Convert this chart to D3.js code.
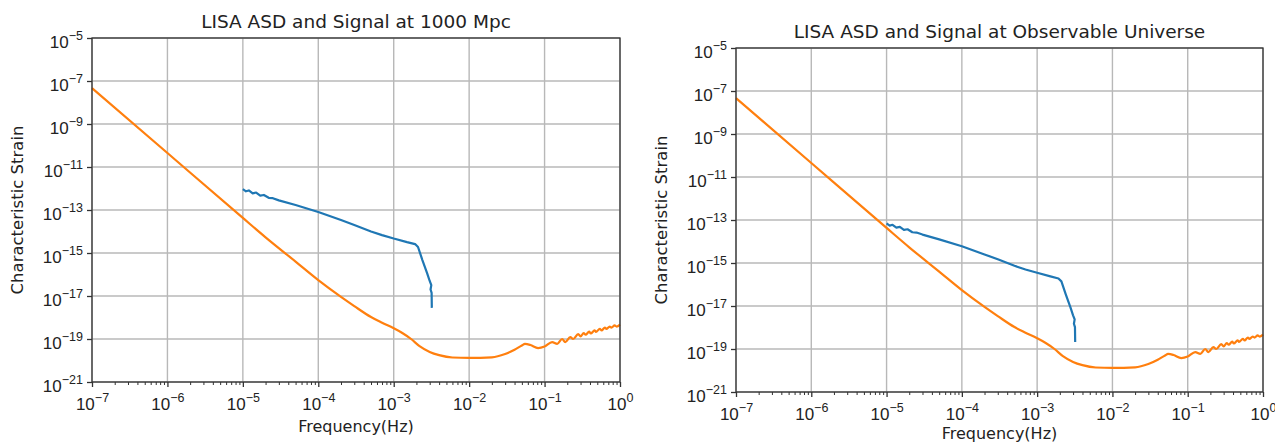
<!DOCTYPE html>
<html>
<head>
<meta charset="utf-8">
<script src="https://cdn.jsdelivr.net/npm/d3@7"></script>
<style>
  body { margin: 0; background: #fff; }
  svg { display: block; font-family: "DejaVu Sans", sans-serif; }
</style>
</head>
<body>
<svg width="1275" height="443"></svg>
<script>
// LISA sensitivity curve (characteristic strain), same in both panels
const lisaFreq = [1e-7, 1e-6, 1e-5, 2e-5, 5e-5, 1e-4, 2e-4, 3e-4, 5e-4, 7e-4, 1e-3, 1.3e-3, 1.7e-3, 2.2e-3, 3e-3, 4e-3, 6e-3, 1e-2, 2e-2, 3e-2, 4e-2, 5e-2, 5.5e-2, 6.5e-2, 8.2e-2, 0.1, 0.126, 0.147, 0.171, 0.188, 0.219, 0.239, 0.279, 0.3, 0.33, 0.35, 0.39, 0.41, 0.46, 0.48, 0.54, 0.57, 0.63, 0.66, 0.73, 0.77, 0.85, 0.9, 1]
const lisaStrain = [4.68e-8, 4.47e-11, 4.27e-14, 5.37e-15, 3.98e-16, 5.5e-17, 9.1e-18, 3.4e-18, 1.05e-18, 5.75e-19, 3.16e-19, 1.9e-19, 1.0e-19, 4.68e-20, 2.51e-20, 1.78e-20, 1.38e-20, 1.32e-20, 1.41e-20, 2.0e-20, 3.16e-20, 5.0e-20, 5.9e-20, 5.25e-20, 3.8e-20, 4.47e-20, 7.2e-20, 5.9e-20, 1.0e-19, 7.2e-20, 1.23e-19, 1.0e-19, 1.7e-19, 1.32e-19, 1.9e-19, 1.58e-19, 2.19e-19, 1.82e-19, 2.5e-19, 2.14e-19, 2.95e-19, 2.5e-19, 3.4e-19, 2.95e-19, 3.8e-19, 3.4e-19, 4.27e-19, 3.8e-19, 4.68e-19]

// signal strain, left at 1000 Mpc, right at observable universe
const signalFreq = [1.0e-5, 1.1e-5, 1.2e-5, 1.35e-5, 1.5e-5, 1.7e-5, 1.9e-5, 2.2e-5, 2.5e-5, 3e-5, 5e-5, 1e-4, 2e-4, 3e-4, 5e-4, 7e-4, 1e-3, 1.5e-3, 1.92e-3, 2.1e-3, 2.4e-3, 2.77e-3, 3.0e-3, 3.15e-3, 3.08e-3, 3.18e-3, 3.2e-3]
const signal1000Mpc = [9.3e-13, 7.4e-13, 8.1e-13, 5.9e-13, 6.5e-13, 4.7e-13, 5.0e-13, 3.7e-13, 3.55e-13, 2.8e-13, 1.7e-13, 8.1e-14, 3.4e-14, 2.0e-14, 1.0e-14, 6.8e-15, 4.7e-15, 3.2e-15, 2.6e-15, 1.9e-15, 4.7e-16, 1.17e-16, 5.0e-17, 3.2e-17, 2.0e-17, 1.4e-17, 2.8e-18]
const signalUniverse = [6.9e-14, 5.5e-14, 6.0e-14, 4.4e-14, 4.8e-14, 3.5e-14, 3.7e-14, 2.7e-14, 2.6e-14, 2.1e-14, 1.26e-14, 6.0e-15, 2.5e-15, 1.5e-15, 7.4e-16, 5.0e-16, 3.5e-16, 2.4e-16, 1.9e-16, 1.4e-16, 3.5e-17, 8.7e-18, 3.7e-18, 2.4e-18, 1.5e-18, 1.04e-18, 2.1e-19]

const xTickExp = [-7, -6, -5, -4, -3, -2, -1, 0]
const yTickExp = [-5, -7, -9, -11, -13, -15, -17, -19, -21]
const titles = ['LISA ASD and Signal at 1000 Mpc', 'LISA ASD and Signal at Observable Universe']

const svg = d3.select('svg')

// where each panel sits
const panels = [
	{ title: titles[0], signal: signal1000Mpc, x0: 92, x1: 620, y0: 38, y1: 382, xlab: 50 },
	{ title: titles[1], signal: signalUniverse, x0: 736, x1: 1263, y0: 48, y1: 392, xlab: 47 }
]

function expLabel(sel, exp) { // 10 met superscript exponent
	sel.append('tspan').text('10')
	sel.append('tspan')
		.attr('dy', -8)
		.attr('font-size', 12.5)
		.text(exp === 0 ? '0' : '\u2212' + Math.abs(exp))
}

panels.forEach(p => {
	const x = d3.scaleLog().domain([1e-7, 1]).range([p.x0, p.x1])
	const y = d3.scaleLog().domain([1e-21, 1e-5]).range([p.y1, p.y0])
	const g = svg.append('g')

	// grid
	g.selectAll('.gx').data(xTickExp).join('line')
		.attr('x1', d => x(10 ** d)).attr('x2', d => x(10 ** d))
		.attr('y1', p.y0).attr('y2', p.y1)
		.attr('stroke', '#b8b8b8').attr('stroke-width', 1.4)
	g.selectAll('.gy').data(yTickExp).join('line')
		.attr('y1', d => y(10 ** d)).attr('y2', d => y(10 ** d))
		.attr('x1', p.x0).attr('x2', p.x1)
		.attr('stroke', '#b8b8b8').attr('stroke-width', 1.4)

	// minor ticks on x
	const minor = []
	xTickExp.slice(0, -1).forEach(e => { for (let k = 2; k < 10; k++) minor.push(k * 10 ** e) })
	g.append('g')
		.attr('transform', `translate(0, ${p.y1})`)
		.call(d3.axisBottom(x).tickValues(minor).tickSize(3).tickFormat(''))
		.call(a => a.select('.domain').remove())
		.selectAll('line').attr('stroke', '#333').attr('stroke-width', 1)

	// major x ticks + labels
	const ax = g.append('g')
		.attr('transform', `translate(0, ${p.y1})`)
		.call(d3.axisBottom(x).tickValues(xTickExp.map(e => 10 ** e)).tickSize(5).tickFormat(''))
	ax.select('.domain').remove()
	ax.selectAll('line').attr('stroke', '#333').attr('stroke-width', 1.3)
	ax.selectAll('.tick').append('text')
		.attr('fill', '#222').attr('font-size', 17)
		.attr('text-anchor', 'middle').attr('y', 28)
		.each(function (d) { expLabel(d3.select(this), Math.round(Math.log10(d))) })

	// y ticks + labels
	const ay = g.append('g')
		.attr('transform', `translate(${p.x0}, 0)`)
		.call(d3.axisLeft(y).tickValues(yTickExp.map(e => 10 ** e)).tickSize(5).tickFormat(''))
	ay.select('.domain').remove()
	ay.selectAll('line').attr('stroke', '#333').attr('stroke-width', 1.3)
	ay.selectAll('.tick').append('text')
		.attr('fill', '#222').attr('font-size', 17)
		.attr('text-anchor', 'end').attr('x', -9).attr('y', 9)
		.each(function (d) { expLabel(d3.select(this), Math.round(Math.log10(d))) })

	// lines
	const smooth = d3.line().curve(d3.curveMonotoneX).x(d => x(d[0])).y(d => y(d[1]))
	const line = d3.line().x(d => x(d[0])).y(d => y(d[1]))
	g.append('path')
		.datum(lisaFreq.map((f, i) => [f, lisaStrain[i]]))
		.attr('fill', 'none').attr('stroke', '#ff7f0e')
		.attr('stroke-width', 2.2).attr('stroke-linejoin', 'round')
		.attr('d', smooth)
	g.append('path')
		.datum(signalFreq.map((f, i) => [f, p.signal[i]]))
		.attr('fill', 'none').attr('stroke', '#1f77b4')
		.attr('stroke-width', 2.2).attr('stroke-linejoin', 'round')
		.attr('d', line)

	// frame
	g.append('rect')
		.attr('x', p.x0).attr('y', p.y0)
		.attr('width', p.x1 - p.x0).attr('height', p.y1 - p.y0)
		.attr('fill', 'none').attr('stroke', '#333').attr('stroke-width', 1.3)

	// title en labels
	g.append('text')
		.attr('x', (p.x0 + p.x1) / 2).attr('y', p.y0 - 10)
		.attr('text-anchor', 'middle').attr('font-size', 18.5).attr('fill', '#222')
		.text(p.title)
	g.append('text')
		.attr('x', (p.x0 + p.x1) / 2).attr('y', p.y1 + p.xlab)
		.attr('text-anchor', 'middle').attr('font-size', 16).attr('fill', '#222')
		.text('Frequency(Hz)')
	g.append('text')
		.attr('transform', `translate(${p.x0 - 69}, ${(p.y0 + p.y1) / 2}) rotate(-90)`)
		.attr('text-anchor', 'middle').attr('font-size', 16.5).attr('fill', '#222')
		.text('Characteristic Strain')
})
</script>
</body>
</html>
